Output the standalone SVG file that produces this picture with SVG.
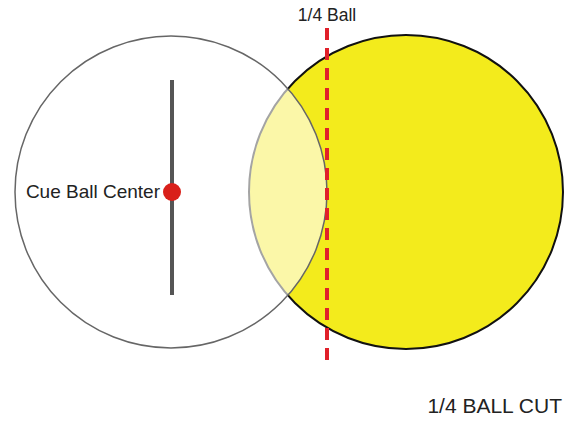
<svg xmlns="http://www.w3.org/2000/svg" width="565" height="423" viewBox="0 0 565 423">
<style>
text{font-family:"Liberation Sans",Arial,sans-serif;fill:#222;}
</style>
<rect width="565" height="423" fill="#fff"/>
<g id="object-ball">
<circle cx="406" cy="192" r="157" fill="#f3eb1c" stroke="#111" stroke-width="2"/>
</g>
<g id="cue-ball">
<circle cx="171" cy="192" r="156" fill="#fff" fill-opacity="0.62" stroke="#666" stroke-width="1.5"/>
<line x1="172" y1="80" x2="172" y2="295" stroke="#555" stroke-width="4"/>
<circle cx="172" cy="192" r="9" fill="#d9201a"/>
<text x="160" y="198" font-size="19" text-anchor="end">Cue Ball Center</text>
</g>
<g id="connectors">
<line x1="327" y1="28" x2="327" y2="362" stroke="#e0202a" stroke-width="4" stroke-dasharray="12 8"/>
</g>
<g id="label-quarter">
<text x="327" y="21" font-size="17.5" text-anchor="middle">1/4 Ball</text>
</g>
<g id="title">
<text x="562" y="413" font-size="21" text-anchor="end">1/4 BALL CUT</text>
</g>
</svg>
